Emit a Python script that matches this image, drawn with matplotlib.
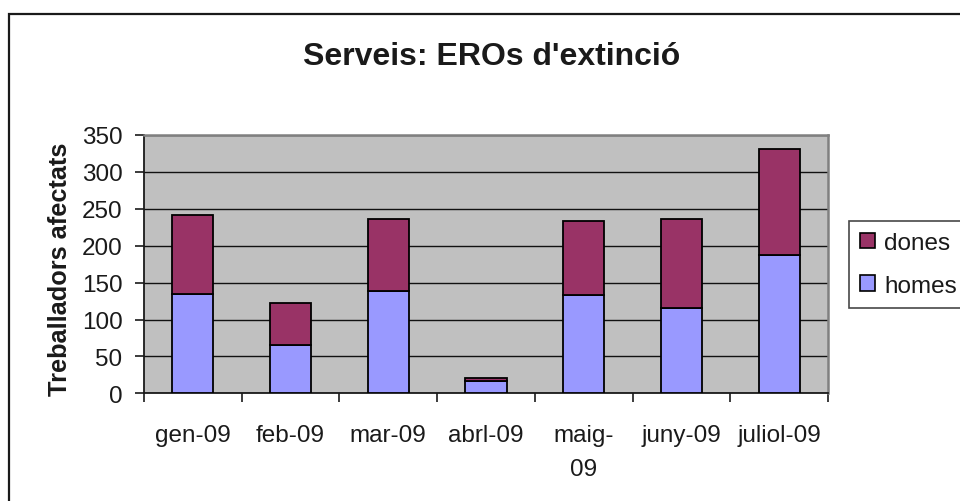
import matplotlib
matplotlib.use("Agg")
import matplotlib.pyplot as plt
from matplotlib.patches import Patch, Rectangle
import numpy as np

plt.rcParams['font.family'] = ['Liberation Sans', 'DejaVu Sans']

categories = ["gen-09", "feb-09", "mar-09", "abrl-09", "maig-\n09", "juny-09", "juliol-09"]
homes = [135, 65, 138, 16, 133, 116, 187]
dones = [106, 57, 98, 5, 101, 120, 144]
yticks = [0, 50, 100, 150, 200, 250, 300, 350]

c_homes = "#9999FF"
c_dones = "#993366"
fs = 17.5

fig = plt.figure(figsize=(9.6, 5.02), dpi=100)
fig.patch.set_facecolor("white")

# outer chart frame
fig.add_artist(Rectangle((9/960, -0.1), 1.2, 1 - 15/502 + 0.1, transform=fig.transFigure,
                         fill=False, edgecolor="#1a1a1a", linewidth=1.6))

ax = fig.add_axes([144/960, 1 - 394.3/502, (828-144)/960, (394.3-136)/502])
ax.set_facecolor("#C0C0C0")
x = np.arange(len(categories))
w = 0.42
ax.bar(x, homes, width=w, color=c_homes, edgecolor="black", linewidth=1.3, zorder=3)
ax.bar(x, dones, width=w, bottom=homes, color=c_dones, edgecolor="black", linewidth=1.3, zorder=3)

ax.set_xlim(-0.5, len(categories) - 0.5)
ax.set_ylim(0, 350)
ax.set_yticks(yticks)
ax.yaxis.grid(True, color="#111111", linewidth=1.0, zorder=1)
ax.set_axisbelow(True)

ax.set_xticks(np.arange(-0.5, len(categories)), minor=False)
ax.set_xticklabels([])
ax.set_xticks(x, minor=True)
ax.set_xticklabels(categories, minor=True, fontsize=fs, color="#1a1a1a", linespacing=1.7)
ax.tick_params(axis='x', which='major', direction='out', length=6.5, width=1.2, color="#1a1a1a")
ax.tick_params(axis='x', which='minor', length=0, pad=22)
ax.tick_params(axis='y', direction='out', length=6.5, width=1.2, pad=9, labelsize=fs,
               color="#1a1a1a", labelcolor="#1a1a1a")

for s in ['top', 'right']:
    ax.spines[s].set_color("#808080")
    ax.spines[s].set_linewidth(1.8)
for s in ['left', 'bottom']:
    ax.spines[s].set_color("#1a1a1a")
    ax.spines[s].set_linewidth(1.3)

fig.text(492/960, 1 - 57/502, "Serveis: EROs d'extinció", ha="center", va="center",
         fontsize=23, fontweight="bold", color="#1a1a1a")
fig.text(60/960, 1 - 269/502, "Treballadors afectats", ha="center", va="center",
         rotation=90, fontsize=18.3, fontweight="bold", color="#1a1a1a")

handles = [Patch(facecolor=c_dones, edgecolor="black", linewidth=1.2),
           Patch(facecolor=c_homes, edgecolor="black", linewidth=1.2)]
leg = fig.legend(handles, ["dones", "homes"], loc="upper left",
                 bbox_to_anchor=(849/960, 1 - 222/502), fontsize=fs,
                 handlelength=0.6, handleheight=0.6, handletextpad=0.4,
                 labelspacing=0.85, borderpad=0.45, borderaxespad=0,
                 frameon=True, fancybox=False, edgecolor="#1a1a1a")
leg.get_frame().set_linewidth(1.2)
for t in leg.get_texts():
    t.set_color("#1a1a1a")

fig.savefig("out.png", dpi=100)
